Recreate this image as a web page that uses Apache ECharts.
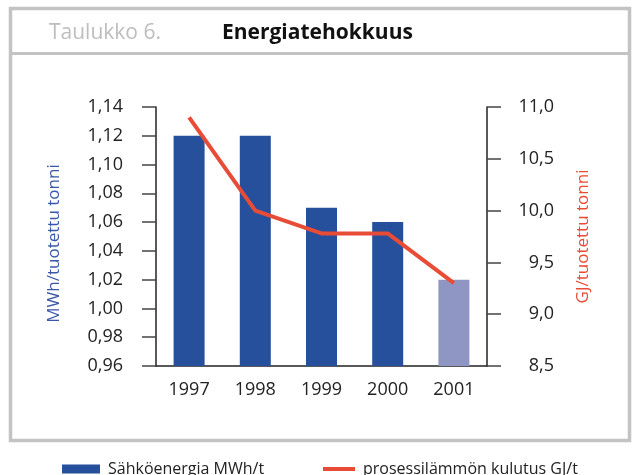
<!DOCTYPE html>
<html>
<head>
<meta charset="utf-8">
<script src="https://cdn.jsdelivr.net/npm/echarts@6/dist/echarts.min.js"></script>
<style>html,body{margin:0;padding:0;background:#fff;}#c{width:633px;height:475px;}</style>
</head>
<body>
<div id="c"></div>
<script>
const categories = ['1997', '1998', '1999', '2000', '2001'];
const electricity = [1.12, 1.12, 1.07, 1.06, 1.02];
const processHeat = [10.9, 10.0, 9.78, 9.78, 9.3];
const leftTicks = { min: 0.96, max: 1.14, interval: 0.02 };
const rightTicks = { min: 8.5, max: 11.0, interval: 0.5 };
const seriesNames = ['Sähköenergia MWh/t', 'prosessilämmön kulutus GJ/t'];
const axisNames = ['MWh/tuotettu tonni', 'GJ/tuotettu tonni'];
const titleParts = ['Taulukko 6.', 'Energiatehokkuus'];

const FONT = '"Open Sans", "Noto Sans", sans-serif';
const BLUE = '#26509b';
const LIGHT = '#8f96c4';
const RED = '#e84b36';

const chart = echarts.init(document.getElementById('c'), null, { renderer: 'canvas' });
const barData = electricity.map((v, i) => i === electricity.length - 1 ? { value: v, itemStyle: { color: LIGHT } } : v);

const axisCommon = {
  axisLine: { show: true, lineStyle: { color: '#222', width: 1.5 } },
  axisTick: { show: true, inside: false, length: 14, lineStyle: { color: '#444', width: 1.5 } },
  splitLine: { show: false }
};

chart.setOption({
  animation: false,
  textStyle: { fontFamily: FONT },
  graphic: [
    { type: 'rect', shape: { x: 10.5, y: 8.5, width: 619, height: 432 }, style: { fill: 'none', stroke: '#c3c3c3', lineWidth: 3.5 } },
    { type: 'line', shape: { x1: 10.5, y1: 53.5, x2: 629.5, y2: 53.5 }, style: { stroke: '#c3c3c3', lineWidth: 3 } }
  ],
  title: [
    { text: titleParts[0], left: 44, top: 18, textStyle: { fontFamily: FONT, fontSize: 21, fontWeight: 'normal', color: '#bdbdbd' } },
    { text: titleParts[1], left: 217, top: 18, textStyle: { fontFamily: FONT, fontSize: 21, fontWeight: 'bold', color: '#111' } }
  ],
  legend: [
    { data: [seriesNames[0]], left: 57, top: 456, icon: 'rect', itemWidth: 38, itemHeight: 9,
      textStyle: { fontFamily: FONT, fontSize: 16, color: '#222', padding: [0, 0, 0, 3] } },
    { data: [seriesNames[1]], left: 318, top: 456, icon: 'rect', itemWidth: 32, itemHeight: 4,
      textStyle: { fontFamily: FONT, fontSize: 16, color: '#222', padding: [0, 0, 0, 3] } }
  ],
  grid: { left: 156, right: 146, top: 107, bottom: 109, containLabel: false },
  xAxis: {
    type: 'category', data: categories,
    axisLine: { show: true, lineStyle: { color: '#222', width: 1.5 } },
    axisTick: { show: false },
    axisLabel: { fontFamily: FONT, fontSize: 18, color: '#222', margin: 15 }
  },
  yAxis: [
    Object.assign({}, axisCommon, {
      type: 'value', position: 'left', min: leftTicks.min, max: leftTicks.max, interval: leftTicks.interval,
      name: axisNames[0], nameLocation: 'middle', nameGap: 93, nameRotate: 90,
      nameTextStyle: { fontFamily: FONT, fontSize: 17, color: '#3a58a8', padding: [0, 14, 0, 0] },
      axisLabel: { fontFamily: FONT, fontSize: 18, color: '#222', margin: 33, formatter: v => v.toFixed(2).replace('.', ',') }
    }),
    Object.assign({}, axisCommon, {
      type: 'value', position: 'right', min: rightTicks.min, max: rightTicks.max, interval: rightTicks.interval,
      name: axisNames[1], nameLocation: 'middle', nameGap: 88, nameRotate: 90,
      nameTextStyle: { fontFamily: FONT, fontSize: 17, color: RED },
      axisLabel: { fontFamily: FONT, fontSize: 18, color: '#222', margin: 67, align: 'right', formatter: v => v.toFixed(1).replace('.', ',') }
    })
  ],
  series: [
    { name: seriesNames[0], type: 'bar', yAxisIndex: 0, data: barData, barWidth: 31, itemStyle: { color: BLUE } },
    { name: seriesNames[1], type: 'line', yAxisIndex: 1, data: processHeat, showSymbol: false, symbol: 'none',
      lineStyle: { color: RED, width: 4 }, itemStyle: { color: RED } }
  ]
});
</script>
</body>
</html>
